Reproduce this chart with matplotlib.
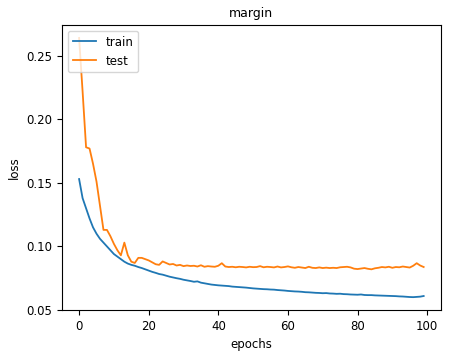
import matplotlib
matplotlib.use("Agg")
import matplotlib.pyplot as plt
import numpy as np

epochs = list(range(100))

train = [0.153, 0.138, 0.130, 0.122, 0.115, 0.110, 0.106, 0.103, 0.100, 0.097,
         0.094, 0.092, 0.090, 0.088, 0.0865, 0.0855, 0.0848, 0.0838, 0.0830, 0.0820,
         0.0810, 0.0800, 0.0792, 0.0783, 0.0778, 0.0770, 0.0762, 0.0756, 0.0750, 0.0745,
         0.0738, 0.0733, 0.0728, 0.0722, 0.0725, 0.0715, 0.0710, 0.0705, 0.0700, 0.0697,
         0.0694, 0.0692, 0.0690, 0.0688, 0.0684, 0.0682, 0.0680, 0.0678, 0.0676, 0.0673,
         0.0670, 0.0668, 0.0666, 0.0664, 0.0663, 0.0661, 0.0660, 0.0657, 0.0655, 0.0653,
         0.0650, 0.0648, 0.0646, 0.0645, 0.0643, 0.0640, 0.0639, 0.0637, 0.0635, 0.0634,
         0.0632, 0.0633, 0.0630, 0.0629, 0.0627, 0.0628, 0.0625, 0.0624, 0.0622, 0.0621,
         0.0620, 0.0622, 0.0618, 0.0617, 0.0617, 0.0615, 0.0614, 0.0613, 0.0612, 0.0611,
         0.0610, 0.0609, 0.0607, 0.0606, 0.0604, 0.0602, 0.0601, 0.0603, 0.0605, 0.0610]

test = [0.264, 0.222, 0.178, 0.177, 0.165, 0.151, 0.132, 0.113, 0.113, 0.108,
        0.102, 0.097, 0.093, 0.103, 0.093, 0.088, 0.087, 0.091, 0.091, 0.090,
        0.089, 0.0875, 0.0860, 0.0855, 0.0882, 0.0870, 0.0858, 0.0862, 0.0850, 0.0855,
        0.0845, 0.0850, 0.0846, 0.0848, 0.0842, 0.0852, 0.0840, 0.0845, 0.0842, 0.0840,
        0.0848, 0.0868, 0.0842, 0.0838, 0.0840, 0.0836, 0.0840, 0.0838, 0.0835, 0.0840,
        0.0837, 0.0838, 0.0845, 0.0836, 0.0840, 0.0838, 0.0835, 0.0842, 0.0835, 0.0838,
        0.0843, 0.0836, 0.0832, 0.0838, 0.0834, 0.0830, 0.0840, 0.0832, 0.0830, 0.0835,
        0.0830, 0.0833, 0.0830, 0.0832, 0.0830, 0.0836, 0.0838, 0.0840, 0.0835, 0.0825,
        0.0822, 0.0826, 0.0830, 0.0824, 0.0820, 0.0828, 0.0832, 0.0838, 0.0835, 0.0840,
        0.0832, 0.0838, 0.0836, 0.0842, 0.0838, 0.0834, 0.0848, 0.0868, 0.0850, 0.0838]

fig = plt.figure(figsize=(4.55, 3.52), dpi=100)
ax = fig.add_axes([0.136, 0.119, 0.833, 0.81])
ax.plot(epochs, train, color="#1f77b4", lw=1.3, label="train")
ax.plot(epochs, test, color="#ff7f0e", lw=1.3, label="test")
fs = 8.5
ax.set_title("margin", fontsize=fs + 0.5)
ax.set_xlabel("epochs", fontsize=fs)
ax.set_ylabel("loss", fontsize=fs)
ax.set_yticks([0.05, 0.10, 0.15, 0.20, 0.25])
ax.tick_params(labelsize=fs)
ax.legend(loc="upper left", fontsize=fs)
fig.savefig("out.png", dpi=100)
